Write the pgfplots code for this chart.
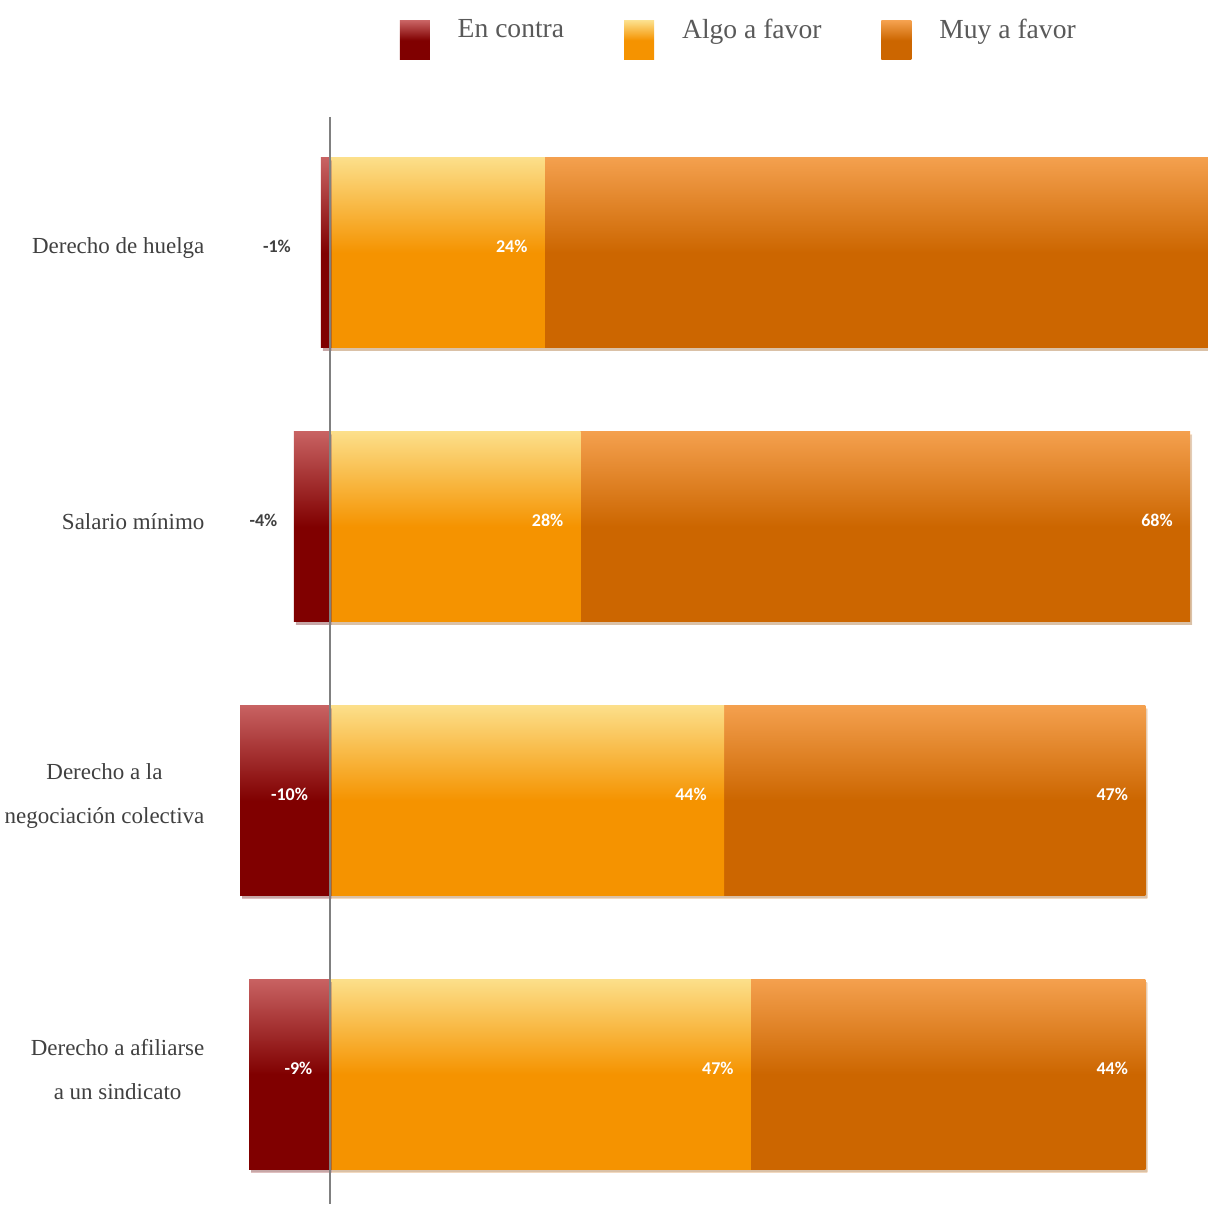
\documentclass[border=0pt]{standalone}
\usepackage{pgfplots}
\usepackage{pgfplotstable}
\pgfplotsset{compat=1.18}
\usepackage{fontspec}
\setmainfont{Liberation Serif}
\newfontfamily\carlito{Carlito}
\usetikzlibrary{shadows}
\definecolor{encTop}{HTML}{C86262}
\definecolor{encBot}{HTML}{800000}
\definecolor{algoTop}{HTML}{FCDF8A}
\definecolor{algoBot}{HTML}{F59300}
\definecolor{muyTop}{HTML}{F4A04E}
\definecolor{muyBot}{HTML}{CC6600}
\definecolor{txt}{HTML}{404040}
\definecolor{legtxt}{HTML}{595959}
\pgfplotstableread{
cat enc algo muy
0 -1 24 75
1 -4 28 68
2 -10 44 47
3 -9 47 44
}\datatable
\pgfplotsset{
  barbase/.style={xbar, bar shift=0pt, draw=none, forget plot},
  shad/.style={drop shadow={shadow xshift=1pt, shadow yshift=-1.5pt, opacity=0.25}},
  vlab/.style={nodes near coords={\pgfmathprintnumber[assume math mode=true]{\pgfplotspointmeta}\%},
    nodes near coords align={anchor=base east},
    every node near coord/.append style={font=\carlito\bfseries\fontsize{9}{10}\selectfont, text=white, inner xsep=8.5pt}},
}
\begin{document}
\begin{tikzpicture}
\path[use as bounding box] (-111.2pt,0pt) rectangle (493.2pt,602.5pt);
\begin{axis}[
  at={(0,0)}, anchor=south west,
  scale only axis, width=493.2pt, height=544pt,
  xmin=-12, xmax=98, ymin=-0.496, ymax=3.474, y dir=reverse,
  axis line style={draw=none}, xtick=\empty,
  ytick={0,1,2,3},
  yticklabels={Derecho de huelga, Salario mínimo, {Derecho a la\\negociación colectiva}, {Derecho a afiliarse\\a un sindicato}},
  yticklabel style={align=center, font=\fontsize{11.5}{22}\selectfont, text=txt, inner sep=0pt, xshift=-8.75pt, yshift=2.5pt},
  major tick length=0pt,
  bar width=95pt,
  legend style={at={(0.525,1.0733)}, anchor=center, draw=none, fill=none,
    legend columns=3, font=\fontsize{13.8}{15}\selectfont, text=legtxt,
    /tikz/every even column/.append style={column sep=28pt}},
]
\pgfplotsinvokeforeach{0,1,2,3}{
  \addplot[barbase, shad, top color=muyTop, bottom color=muyBot, middle color=muyBot, vlab,
    restrict expr to domain={\coordindex}{#1:#1}, point meta=\thisrow{muy}]
    table[x expr=\thisrow{algo}+\thisrow{muy}, y=cat] {\datatable};
  \addplot[barbase, top color=algoTop, bottom color=algoBot, middle color=algoBot, vlab,
    restrict expr to domain={\coordindex}{#1:#1}, point meta=\thisrow{algo}]
    table[x=algo, y=cat] {\datatable};
  \addplot[barbase, shad, top color=encTop, bottom color=encBot, middle color=encBot,
    restrict expr to domain={\coordindex}{#1:#1}]
    table[x=enc, y=cat] {\datatable};
}
\addplot[only marks, mark=none, forget plot, point meta=explicit symbolic, nodes near coords,
  nodes near coords align={anchor=base},
  every node near coord/.append style={font=\carlito\bfseries\fontsize{9}{10}\selectfont, text=white}]
  coordinates {(-5.9,0) [\textcolor{txt}{-1\%}] (-7.4,1) [\textcolor{txt}{-4\%}] (-4.5,2) [-10\%] (-3.5,3) [-9\%]};
\draw[color=gray, line width=0.8pt] (axis cs:0,-0.496) -- (axis cs:0,3.474);
\addlegendimage{legend image code/.code={\path[draw=none, top color=encTop, bottom color=encBot, middle color=encBot] (0pt,-15pt) rectangle (15pt,4.5pt); \path[draw=none] (0pt,0pt) -- (27pt,0pt);}}
\addlegendentry{En contra}
\addlegendimage{legend image code/.code={\path[draw=none, top color=algoTop, bottom color=algoBot, middle color=algoBot] (0pt,-15pt) rectangle (15pt,4.5pt); \path[draw=none] (0pt,0pt) -- (27pt,0pt);}}
\addlegendentry{Algo a favor}
\addlegendimage{legend image code/.code={\path[draw=none, top color=muyTop, bottom color=muyBot, middle color=muyBot] (0pt,-15pt) rectangle (15pt,4.5pt); \path[draw=none] (0pt,0pt) -- (27pt,0pt);}}
\addlegendentry{Muy a favor}
\end{axis}
\end{tikzpicture}
\end{document}
